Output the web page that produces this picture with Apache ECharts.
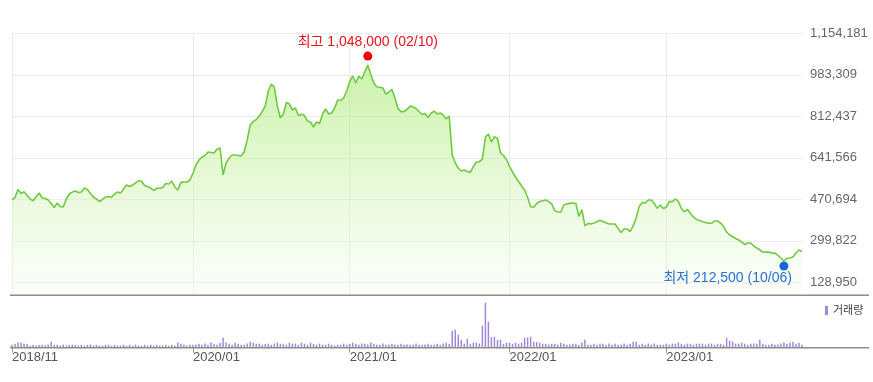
<!DOCTYPE html>
<html><head><meta charset="utf-8">
<script src="https://cdn.jsdelivr.net/npm/echarts@6/dist/echarts.min.js"></script>
<style>html,body{margin:0;padding:0;background:#fff}#c{width:873px;height:382px}</style>
</head><body><div id="c"></div>
<script>
const startDate = '2018-11-09';
const tickIndex = [0, 60, 112, 165, 217];
const tickLabels = ['2018/11', '2020/01', '2021/01', '2022/01', '2023/01'];
const yTicks = [128950, 299822, 470694, 641566, 812437, 983309, 1154181];
const yMin = 75422;
const yMax = 1154181;

const prices = [
 468000,478000,511000,494500,502000,486000,472000,465000,481000,496500,
 476000,474000,468000,453500,437000,455500,441000,439000,472000,492500,
 500500,505000,498500,500500,517000,511000,494500,480000,472000,461500,
 470000,480000,482000,479000,492500,500500,496500,513000,529500,523500,
 529500,538000,548000,544000,527500,522500,517000,507000,516000,516000,
 519500,535500,533500,546000,521500,509000,540500,542000,542000,550000,
 577000,612000,632500,645000,651000,665500,663500,661500,678000,682000,
 571000,620000,640500,653000,653000,651000,649000,665500,715000,776500,
 791000,799000,813500,832000,855000,916500,945500,933000,855000,805500,
 822000,869000,863000,838500,846500,815500,820500,815500,793000,789000,
 768500,789000,783000,822000,842500,822000,826000,846500,879500,877500,
 888000,916500,955500,978500,949500,978500,966000,995000,1023500,984500,
 949500,933000,932000,929000,904000,912500,923000,888000,844500,831500,
 831500,840500,855000,850500,844500,832000,820000,824000,807500,826000,
 834000,822000,826000,818000,801500,813500,653000,620000,599500,587000,
 591500,585000,581000,605500,624500,625500,636500,727000,739500,706500,
 728500,721000,662500,651000,634500,606500,583000,562500,544000,525500,
 509000,478000,440000,438000,453500,461500,465000,468000,461000,451500,
 424000,418500,418500,447000,451500,454000,455500,453500,400000,428500,
 361000,371000,369000,373000,378500,384500,379500,374000,369000,369000,
 369000,350500,334000,348500,348500,338000,361000,393500,441000,457500,
 455500,468000,468000,453500,433500,447000,433000,439000,461000,461000,
 472000,461500,433000,418500,429500,412000,398000,387500,383500,378500,
 375000,372000,372000,381500,381500,373000,358500,336000,323500,316500,
 309500,303000,295000,284500,291000,291000,278500,270000,263000,253500,
 253000,253500,248500,249500,239500,229000,216500,228000,229000,233000,
 249500,262000,256000
];

// weekly volume, thousands of shares
const volumes = [
 330,440,560,540,430,420,220,330,240,310,
 320,230,340,650,330,320,230,340,220,310,
 330,310,240,330,220,320,340,230,310,220,
 230,320,330,220,310,230,240,330,220,320,
 220,340,230,220,320,230,330,220,310,230,
 240,330,220,320,230,560,430,330,240,320,
 330,340,440,320,450,330,560,430,330,540,
 1100,560,430,330,540,440,330,320,450,660,
 540,430,450,330,430,440,320,450,560,430,
 440,330,540,430,450,320,560,440,330,540,
 430,330,450,320,330,440,320,230,330,340,
 450,330,440,560,430,330,450,430,340,560,
 440,330,320,450,330,340,430,320,330,440,
 320,340,330,320,450,330,320,340,430,330,
 320,440,330,450,540,430,1870,1980,1430,880,
 440,990,430,540,560,440,2420,4950,2860,1150,
 1210,850,880,430,540,560,430,540,440,560,
 1100,1130,1210,660,650,540,440,430,330,440,
 430,330,550,440,320,340,440,430,330,560,
 880,330,320,440,330,440,430,330,450,320,
 440,330,320,450,330,440,650,660,330,440,
 330,450,320,440,330,340,320,450,330,440,
 440,560,430,330,450,440,320,440,450,430,
 330,440,450,320,440,430,330,1100,770,660,
 440,450,560,430,330,440,450,430,880,440,
 330,320,440,330,340,450,560,440,540,660,
 430,550,330
];
const volMax = 4950;

const highIndex = 118, highValue = 1048000, highLabel = '최고 1,048,000 (02/10)';
const lowIndex = 256, lowValue = 212500, lowLabel = '최저 212,500 (10/06)';

const categories = [];
const d0 = new Date(startDate + 'T00:00:00Z');
for (let i = 0; i < prices.length; i++) {
  categories.push(new Date(d0.getTime() + i * 7 * 86400000).toISOString().slice(0, 10));
}
const isTick = (idx) => tickIndex.indexOf(idx) >= 0;
const FONT = 'Arial, "Liberation Sans", "Noto Sans CJK KR", sans-serif';

const chart = echarts.init(document.getElementById('c'), null, {renderer: 'canvas'});
chart.setOption({
  animation: false,
  textStyle: {fontFamily: FONT},
  grid: [
    {left: 12, top: 33.3, width: 790, height: 262},
    {left: 12, top: 302.7, width: 790, height: 45}
  ],
  legend: {
    data: ['거래량'], left: 825, top: 305, padding: 0,
    icon: 'rect', itemWidth: 3, itemHeight: 9, itemGap: 0,
    textStyle: {fontSize: 11, color: '#444', fontFamily: FONT}
  },
  xAxis: [
    {gridIndex: 0, type: 'category', data: categories, boundaryGap: false,
     axisLine: {show: false}, axisTick: {show: false}, axisLabel: {show: false},
     splitLine: {show: true, interval: (i) => isTick(i), lineStyle: {color: '#e9e9e9', width: 1}}},
    {gridIndex: 1, type: 'category', data: categories, boundaryGap: false,
     axisLine: {show: false},
     axisTick: {show: true, interval: (i) => isTick(i), length: 5, lineStyle: {color: '#999'}},
     axisLabel: {show: true, interval: (i) => isTick(i), align: 'left', margin: 3,
       color: '#555', fontSize: 13, fontFamily: FONT,
       formatter: (v, i) => { const k = tickIndex.indexOf(i); return k >= 0 ? tickLabels[k] : ''; }},
     splitLine: {show: false}}
  ],
  yAxis: [
    {gridIndex: 0, type: 'value', position: 'right', min: yMin, max: yMax,
     axisLine: {show: false},
     axisTick: {show: false, customValues: yTicks},
     axisLabel: {customValues: yTicks, color: '#666', fontSize: 13, margin: 8, fontFamily: FONT,
       formatter: (v) => Math.round(v).toLocaleString('en-US')},
     splitLine: {show: true, lineStyle: {color: '#ebebeb', width: 1}}},
    {gridIndex: 1, type: 'value', min: 0, max: volMax, show: false,
     splitLine: {show: false}}
  ],
  series: [
    {type: 'line', xAxisIndex: 0, yAxisIndex: 0, data: prices, symbol: 'none', z: 2,
     lineStyle: {color: '#6fcb40', width: 1.6},
     areaStyle: {color: new echarts.graphic.LinearGradient(0, 0, 0, 1, [
       {offset: 0, color: 'rgba(172,234,118,0.9)'},
       {offset: 1, color: 'rgba(246,253,242,0.6)'}
     ])}},
    {type: 'scatter', xAxisIndex: 0, yAxisIndex: 0, data: [[highIndex, highValue]], z: 10,
     symbolSize: 9, symbolOffset: [0, -3], itemStyle: {color: '#f00000', opacity: 1},
     label: {show: true, position: 'top', distance: 2, formatter: highLabel,
       color: '#e8141b', fontSize: 14, fontFamily: FONT}},
    {type: 'scatter', xAxisIndex: 0, yAxisIndex: 0, data: [[lowIndex, lowValue]], z: 10,
     symbolSize: 9, symbolOffset: [0, 4], itemStyle: {color: '#1c63d6', opacity: 1},
     label: {show: true, position: 'bottom', distance: 1, align: 'right', offset: [8, 0],
       formatter: lowLabel, color: '#2a6fd6', fontSize: 14, fontFamily: FONT}},
    {type: 'bar', name: '거래량', xAxisIndex: 1, yAxisIndex: 1, data: volumes,
     barWidth: 1.5, itemStyle: {color: '#9f89d8'}}
  ],
  graphic: [
    {type: 'line', shape: {x1: 10, y1: 295.3, x2: 869, y2: 295.3}, style: {stroke: '#8c8c8c', lineWidth: 1.5}, z: 100},
    {type: 'line', shape: {x1: 10, y1: 347.7, x2: 869, y2: 347.7}, style: {stroke: '#8c8c8c', lineWidth: 1.5}, z: 100}
  ]
});
</script></body></html>
